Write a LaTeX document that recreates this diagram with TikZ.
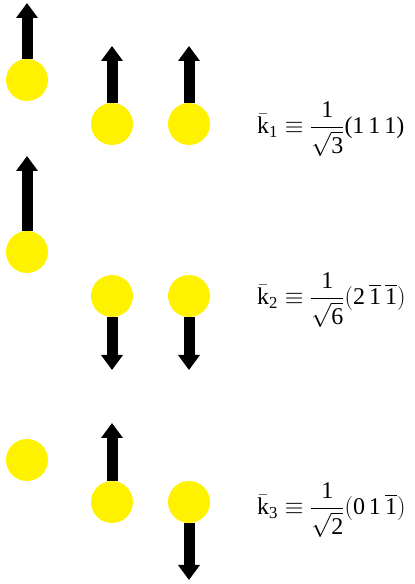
\RequirePackage{fix-cm}
\documentclass[tikz,border=0pt]{standalone}
\usepackage{amsmath}
\usepackage{fontspec}
\setmainfont{Liberation Serif}
\usetikzlibrary{arrows.meta}
\newcommand{\tx}[1]{\text{#1}}
\begin{document}
\begin{tikzpicture}[x=1pt,y=1pt,
  atom/.style={circle,fill=yellow,inner sep=0pt,minimum size=42pt},
  spin/.style={line width=11pt,-{Triangle[width=21pt,length=15pt]}},
  lbl/.style={anchor=west,font=\fontsize{24}{29}\selectfont,inner sep=0pt}]
\useasboundingbox (0,0) rectangle (415,584);
% row 1
\node[atom] (a1) at (27,504) {};
\node[atom] (b1) at (112,460) {};
\node[atom] (c1) at (189,460) {};
\coordinate (ta1) at (27,581);
\coordinate (tb1) at (112,538);
\coordinate (tc1) at (189,538);
\draw[spin] (a1.north) -- (ta1);
\draw[spin] (b1.north) -- (tb1);
\draw[spin] (c1.north) -- (tc1);
\node[lbl] (k1) at (257,455) {$\bar{\tx{k}}_{\tx{1}}\equiv\dfrac{\tx{1}}{\sqrt{\tx{3}}}\tx{(1\,1\,1)}$};
% row 2
\node[atom] (a2) at (27,332) {};
\node[atom] (b2) at (112,288) {};
\node[atom] (c2) at (189,288) {};
\coordinate (ta2) at (27,428);
\coordinate (tb2) at (112,214);
\coordinate (tc2) at (189,214);
\draw[spin] (a2.north) -- (ta2);
\draw[spin] (b2.south) -- (tb2);
\draw[spin] (c2.south) -- (tc2);
\node[lbl] (k2) at (257,284) {$\bar{\tx{k}}_{\tx{2}}\equiv\dfrac{\tx{1}}{\sqrt{\tx{6}}}(\tx{2}\,\overline{\tx{1}}\,\overline{\tx{1}})$};
% row 3
\node[atom] (a3) at (27,124) {};
\node[atom] (b3) at (112,82) {};
\node[atom] (c3) at (189,82) {};
\coordinate (tb3) at (112,161);
\coordinate (tc3) at (189,4);
\draw[spin] (b3.north) -- (tb3);
\draw[spin] (c3.south) -- (tc3);
\node[lbl] (k3) at (257,74) {$\bar{\tx{k}}_{\tx{3}}\equiv\dfrac{\tx{1}}{\sqrt{\tx{2}}}(\tx{0\,1}\,\overline{\tx{1}})$};
\end{tikzpicture}
\end{document}
